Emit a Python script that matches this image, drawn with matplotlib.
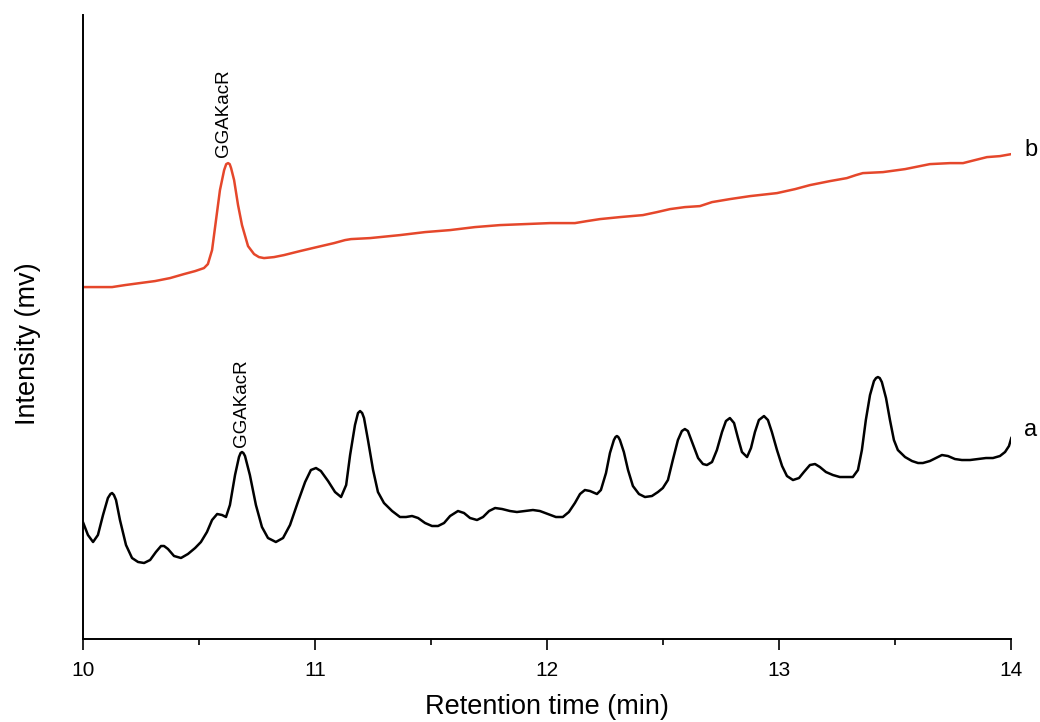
import matplotlib
matplotlib.use("Agg")
import matplotlib.pyplot as plt
from matplotlib.ticker import MultipleLocator

plt.rcParams['font.family'] = ['Liberation Sans', 'DejaVu Sans']

# trace a (black, sample) : (retention time min, intensity mv)
trace_a = [
    (10.00, 116), (10.020, 104), (10.042, 97), (10.063, 104), (10.085, 124),
    (10.106, 141), (10.117, 145), (10.124, 146), (10.132, 144), (10.141, 139),
    (10.158, 119), (10.184, 94),
    (10.210, 81), (10.236, 77), (10.262, 76), (10.288, 79), (10.313, 87),
    (10.335, 93), (10.348, 93), (10.365, 90), (10.391, 83), (10.421, 81),
    (10.451, 85), (10.482, 91), (10.507, 97), (10.533, 107), (10.555, 119),
    (10.577, 125), (10.598, 124), (10.615, 122), (10.632, 134), (10.654, 164),
    (10.671, 182), (10.678, 186), (10.684, 187), (10.690, 186), (10.697, 183),
    (10.718, 164), (10.744, 134),
    (10.770, 112), (10.796, 101), (10.830, 97), (10.861, 101), (10.891, 114),
    (10.925, 137), (10.956, 157), (10.981, 169), (11.003, 171), (11.024, 168),
    (11.055, 158), (11.085, 147), (11.111, 142), (11.133, 154), (11.150, 184),
    (11.171, 214), (11.184, 226), (11.193, 228), (11.202, 226), (11.210, 221),
    (11.227, 199), (11.249, 169),
    (11.270, 147), (11.296, 136), (11.331, 128), (11.365, 122), (11.391, 122),
    (11.417, 123), (11.443, 121), (11.473, 116), (11.503, 113), (11.529, 113),
    (11.555, 116), (11.581, 123), (11.615, 128), (11.641, 126), (11.667, 121),
    (11.697, 119), (11.723, 122), (11.749, 128), (11.775, 131), (11.805, 130),
    (11.839, 128), (11.869, 127), (11.904, 128), (11.938, 129), (11.968, 128),
    (12.003, 125), (12.037, 122), (12.067, 122), (12.093, 127), (12.119, 136),
    (12.141, 145), (12.162, 149), (12.184, 148), (12.214, 145), (12.231, 149),
    (12.253, 166), (12.270, 186), (12.287, 199), (12.294, 202), (12.300, 203),
    (12.306, 202), (12.313, 199),
    (12.330, 187), (12.348, 169), (12.369, 153), (12.395, 145), (12.421, 142),
    (12.451, 143), (12.477, 147), (12.498, 151), (12.520, 159), (12.541, 179),
    (12.563, 199), (12.580, 208), (12.593, 210), (12.606, 208), (12.624, 197),
    (12.650, 181), (12.671, 175), (12.688, 174), (12.710, 177), (12.731, 189),
    (12.753, 207), (12.770, 218), (12.787, 221), (12.805, 216), (12.822, 201),
    (12.839, 187), (12.861, 182), (12.878, 191), (12.895, 207), (12.912, 219),
    (12.934, 223), (12.951, 219), (12.968, 207), (12.990, 189), (13.012, 173),
    (13.033, 163), (13.059, 159), (13.085, 161), (13.106, 167), (13.132, 174),
    (13.154, 175), (13.175, 172), (13.201, 167), (13.231, 164), (13.261, 162),
    (13.291, 162), (13.317, 162), (13.339, 169), (13.356, 189), (13.373, 219),
    (13.391, 244), (13.408, 258), (13.417, 261), (13.425, 262), (13.433, 261),
    (13.442, 257), (13.460, 241),
    (13.477, 219), (13.494, 199), (13.511, 189), (13.542, 182), (13.572, 178),
    (13.598, 176), (13.619, 176), (13.649, 178), (13.675, 181), (13.701, 184),
    (13.727, 183), (13.757, 180), (13.787, 179), (13.822, 179), (13.856, 180),
    (13.891, 181), (13.921, 181), (13.951, 183), (13.973, 187), (13.990, 193),
    (14.00, 201),
]

# trace b (red, standard)
trace_b = [
    (10.00, 352), (10.072, 352), (10.124, 352), (10.180, 354), (10.244, 356),
    (10.309, 358), (10.374, 361), (10.434, 365), (10.482, 368), (10.520, 371),
    (10.537, 375), (10.555, 389), (10.572, 419), (10.589, 449), (10.607, 469),
    (10.616, 475), (10.624, 476), (10.631, 475), (10.637, 471), (10.650, 459),
    (10.667, 434), (10.684, 414),
    (10.710, 393), (10.736, 385), (10.757, 382), (10.779, 381), (10.822, 382),
    (10.865, 384), (10.934, 388), (11.007, 392), (11.081, 396), (11.128, 399),
    (11.154, 400), (11.236, 401), (11.322, 403), (11.365, 404), (11.473, 407),
    (11.581, 409), (11.688, 412), (11.796, 414), (11.904, 415), (12.012, 416),
    (12.119, 416), (12.171, 418), (12.227, 420), (12.313, 422), (12.412, 424),
    (12.473, 427), (12.529, 430), (12.593, 432), (12.658, 433), (12.710, 437),
    (12.787, 440), (12.874, 443), (12.990, 446), (13.068, 450), (13.132, 454),
    (13.218, 458), (13.291, 461), (13.330, 464), (13.360, 466), (13.447, 467),
    (13.542, 470), (13.649, 475), (13.736, 476), (13.792, 476), (13.843, 479),
    (13.895, 482), (13.951, 483), (14.00, 485),
]

peak_label = "GGAKacR"
peak_a = (10.68, 192)
peak_b = (10.605, 482)

time_a, mv_a = zip(*trace_a)
time_b, mv_b = zip(*trace_b)

fig = plt.figure(figsize=(10.4, 7.22), dpi=100)
ax = fig.add_axes([0.0801, 0.115, 0.8923, 0.864])

ax.plot(time_a, mv_a, color='black', lw=1.8, solid_joinstyle='round')
ax.plot(time_b, mv_b, color='#e5472b', lw=1.8, solid_joinstyle='round')

ax.text(peak_b[0], peak_b[1], peak_label, rotation=90, ha='center', va='bottom', fontsize=13.5)
ax.text(peak_a[0], peak_a[1], peak_label, rotation=90, ha='center', va='bottom', fontsize=13.5)

ax.text(14.055, 209, 'a', ha='left', va='center', fontsize=17, clip_on=False)
ax.text(14.055, 489, 'b', ha='left', va='center', fontsize=17, clip_on=False)

ax.set_xlim(10, 14)
ax.set_ylim(0, 624)
ax.set_yticks([])
ax.xaxis.set_major_locator(MultipleLocator(1))
ax.xaxis.set_minor_locator(MultipleLocator(0.5))
ax.tick_params(axis='x', which='major', length=8, width=1.2, labelsize=15, pad=8)
ax.tick_params(axis='x', which='minor', length=4, width=1.2)

for side in ['top', 'right']:
    ax.spines[side].set_visible(False)
for side in ['left', 'bottom']:
    ax.spines[side].set_linewidth(1.4)

ax.set_xlabel("Retention time (min)", fontsize=19.5)
ax.set_ylabel("Intensity (mv)", fontsize=19.5)
ax.xaxis.set_label_coords(0.5, -0.089)
ax.xaxis.label.set_va('top')
ax.yaxis.set_label_coords(-0.046, 0.473)

fig.savefig("out.png", dpi=100)
